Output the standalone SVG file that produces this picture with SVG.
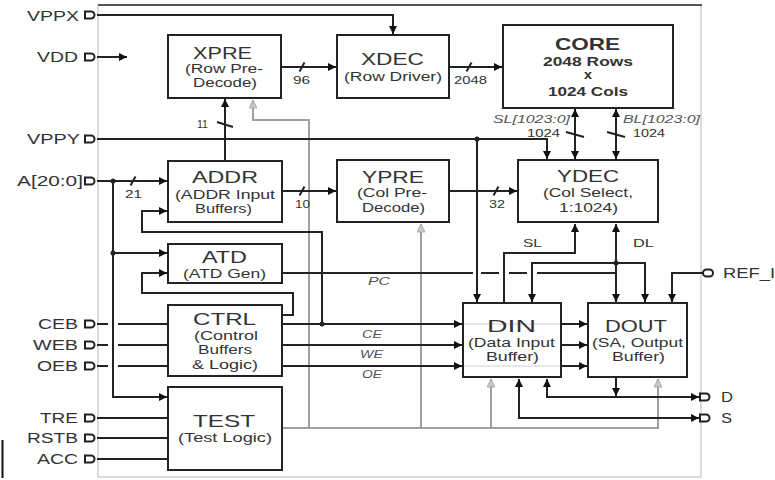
<svg xmlns="http://www.w3.org/2000/svg" width="775" height="480" viewBox="0 0 775 480">
<defs>
<style>
.box{fill:#fff;stroke:#222;stroke-width:2}
.w{fill:none;stroke:#222;stroke-width:2}
.g{fill:none;stroke:#a0a0a0;stroke-width:2}
.port{fill:#fff;stroke:#222;stroke-width:2}
.dot{fill:#222}
text{font-family:"Liberation Sans",Arial,sans-serif;fill:#333}
.ti{font-size:16.5px}
.tb{font-size:17px;font-weight:bold}
.sb{font-size:12.5px;font-weight:bold}
.st{font-size:12px}
.pin{font-size:14px}
.bw{font-size:10.5px}
.it{font-size:11px;font-style:italic;fill:#555}
</style>
<marker id="a" viewBox="0 0 10 10" refX="10" refY="5" markerWidth="9" markerHeight="8" markerUnits="userSpaceOnUse" orient="auto-start-reverse"><path d="M0,0 L10,5 L0,10 z" fill="#111"/></marker>
<marker id="ga" viewBox="0 0 10 10" refX="10" refY="5" markerWidth="9" markerHeight="8" markerUnits="userSpaceOnUse" orient="auto"><path d="M0,0 L10,5 L0,10 z" fill="#c8c8c8" stroke="#a0a0a0" stroke-width="1"/></marker>
</defs>
<rect x="0" y="0" width="775" height="480" fill="#fff"/>
<rect x="98" y="5" width="603" height="472" fill="none" stroke="#cfcfcf" stroke-width="1.5"/>
<path d="M98,5 H702" stroke="#555" stroke-width="2"/>
<path d="M2.5,440 V478" stroke="#111" stroke-width="2"/>

<g id="connectors">
<!-- gray test bus -->
<path class="g" d="M282,428 H658 V379" marker-end="url(#ga)"/>
<path class="g" d="M309,428 V120 H253 V100" marker-end="url(#ga)"/>
<path class="g" d="M421,428 V224" marker-end="url(#ga)"/>
<path class="g" d="M491,428 V379" marker-end="url(#ga)"/>
<!-- power -->
<path class="w" d="M97,15 H393 V34" marker-end="url(#a)"/>
<path class="w" d="M97,57 H127" marker-end="url(#a)"/>
<path class="w" d="M97,139 H547 V159" marker-end="url(#a)"/>
<circle class="dot" cx="477" cy="139" r="2.5"/>
<path class="w" d="M477,139 V302" marker-end="url(#a)"/>
<!-- X path -->
<path class="w" d="M225,161 V99" marker-end="url(#a)"/>
<path class="w" d="M217,122 L233,127"/>
<path class="w" d="M281,67 H336" marker-end="url(#a)"/>
<path class="w" d="M299.5,71.5 L304.5,62.5"/>
<path class="w" d="M449,67 H502" marker-end="url(#a)"/>
<path class="w" d="M466.5,71.5 L471.5,62.5"/>
<!-- core <-> ydec -->
<path class="w" d="M575,109 V159" marker-start="url(#a)" marker-end="url(#a)"/>
<path class="w" d="M616,109 V159" marker-start="url(#a)" marker-end="url(#a)"/>
<path class="w" d="M566,132 L584,137"/>
<path class="w" d="M607,132 L625,137"/>
<!-- address -->
<path class="w" d="M97,181 H167" marker-end="url(#a)"/>
<path class="w" d="M130.5,185.5 L135.5,176.5"/>
<circle class="dot" cx="113" cy="181" r="2.5"/>
<path class="w" d="M113,181 V397 H167" marker-end="url(#a)"/>
<circle class="dot" cx="113" cy="253" r="2.5"/>
<path class="w" d="M113,253 H167" marker-end="url(#a)"/>
<path class="w" d="M322,324 V232 H142 V211 H167" marker-end="url(#a)"/>
<circle class="dot" cx="322" cy="324" r="2.5"/>
<path class="w" d="M282,315 H293 V293 H142 V273 H167" marker-end="url(#a)"/>
<path class="w" d="M282,191 H336" marker-end="url(#a)"/>
<path class="w" d="M299.5,195.5 L304.5,186.5"/>
<path class="w" d="M449,191 H517" marker-end="url(#a)"/>
<path class="w" d="M493.5,195.5 L498.5,186.5"/>
<!-- PC -->
<path class="w" d="M282,273 H473 M481,273 H499 M509,273 H527 M537,273 H616"/>
<!-- SL / DL -->
<path class="w" d="M504,303 V253 H575 V224" marker-end="url(#a)"/>
<path class="w" d="M616,302 V224" marker-start="url(#a)" marker-end="url(#a)"/>
<circle class="dot" cx="616" cy="263" r="2.5"/>
<path class="w" d="M532,302 V263 H645 V302" marker-start="url(#a)" marker-end="url(#a)"/>
<path class="w" d="M703,273 H672 V302" marker-end="url(#a)"/>
<!-- control -->
<path class="w" d="M97,324 H108 M118,324 H168"/>
<path class="w" d="M97,345 H108 M118,345 H168"/>
<path class="w" d="M97,366 H108 M118,366 H168"/>
<path class="w" d="M282,324 H462" marker-end="url(#a)"/>
<path class="w" d="M282,345 H462" marker-end="url(#a)"/>
<path class="w" d="M282,366 H462" marker-end="url(#a)"/>
<path class="w" d="M561,324 H587" marker-end="url(#a)"/>
<path class="w" d="M561,345 H587" marker-end="url(#a)"/>
<path class="w" d="M561,366 H587" marker-end="url(#a)"/>
<!-- test inputs -->
<path class="w" d="M97,418 H168"/>
<path class="w" d="M97,438 H168"/>
<path class="w" d="M97,459 H168"/>
<!-- data out -->
<path class="w" d="M616,377 V396" marker-end="url(#a)"/>
<path class="w" d="M699,397 H547 V379" marker-start="url(#a)" marker-end="url(#a)"/>
<path class="w" d="M699,418 H519 V379" marker-start="url(#a)" marker-end="url(#a)"/>
</g>

<g id="pins">
<g id="pin-vppx"><path class="port" d="M85,11.5 h6 a3.5,3.5 0 0 1 0,7 h-6 z"/><text class="pin" x="27" y="21" textLength="52" lengthAdjust="spacingAndGlyphs">VPPX</text></g>
<g id="pin-vdd"><path class="port" d="M85,53.5 h6 a3.5,3.5 0 0 1 0,7 h-6 z"/><text class="pin" x="37" y="62" textLength="41" lengthAdjust="spacingAndGlyphs">VDD</text></g>
<g id="pin-vppy"><path class="port" d="M85,135.5 h6 a3.5,3.5 0 0 1 0,7 h-6 z"/><text class="pin" x="27" y="144" textLength="53" lengthAdjust="spacingAndGlyphs">VPPY</text></g>
<g id="pin-a"><path class="port" d="M85,177.5 h6 a3.5,3.5 0 0 1 0,7 h-6 z"/><text class="pin" x="17" y="186" textLength="66" lengthAdjust="spacingAndGlyphs">A[20:0]</text></g>
<g id="pin-ceb"><path class="port" d="M85,320.5 h6 a3.5,3.5 0 0 1 0,7 h-6 z"/><text class="pin" x="38" y="329" textLength="40" lengthAdjust="spacingAndGlyphs">CEB</text></g>
<g id="pin-web"><path class="port" d="M85,341.5 h6 a3.5,3.5 0 0 1 0,7 h-6 z"/><text class="pin" x="33" y="350" textLength="45" lengthAdjust="spacingAndGlyphs">WEB</text></g>
<g id="pin-oeb"><path class="port" d="M85,362.5 h6 a3.5,3.5 0 0 1 0,7 h-6 z"/><text class="pin" x="37" y="371" textLength="41" lengthAdjust="spacingAndGlyphs">OEB</text></g>
<g id="pin-tre"><path class="port" d="M85,414.5 h6 a3.5,3.5 0 0 1 0,7 h-6 z"/><text class="pin" x="40" y="423" textLength="38" lengthAdjust="spacingAndGlyphs">TRE</text></g>
<g id="pin-rstb"><path class="port" d="M85,434.5 h6 a3.5,3.5 0 0 1 0,7 h-6 z"/><text class="pin" x="27" y="443" textLength="51" lengthAdjust="spacingAndGlyphs">RSTB</text></g>
<g id="pin-acc"><path class="port" d="M85,455.5 h6 a3.5,3.5 0 0 1 0,7 h-6 z"/><text class="pin" x="37" y="464" textLength="41" lengthAdjust="spacingAndGlyphs">ACC</text></g>
<g id="pin-refi"><rect class="port" x="703" y="269.5" width="10" height="7" rx="3.5"/><text class="pin" x="723" y="278" textLength="52" lengthAdjust="spacingAndGlyphs">REF_I</text></g>
<g id="pin-d"><path class="port" d="M700,393.5 h6 a3.5,3.5 0 0 1 0,7 h-6 z"/><text class="pin" x="721" y="402" textLength="12" lengthAdjust="spacingAndGlyphs">D</text></g>
<g id="pin-s"><path class="port" d="M700,414.5 h6 a3.5,3.5 0 0 1 0,7 h-6 z"/><text class="pin" x="721" y="423" textLength="11" lengthAdjust="spacingAndGlyphs">S</text></g>
</g>

<g id="xpre"><rect class="box" x="168" y="35" width="113" height="63"/>
<text class="ti" x="193" y="59" textLength="59" lengthAdjust="spacingAndGlyphs">XPRE</text>
<text class="st" x="185" y="73" textLength="78" lengthAdjust="spacingAndGlyphs">(Row Pre-</text>
<text class="st" x="193" y="87" textLength="64" lengthAdjust="spacingAndGlyphs">Decode)</text></g>
<g id="xdec"><rect class="box" x="337" y="35" width="112" height="63"/>
<text class="ti" x="361" y="65" textLength="63" lengthAdjust="spacingAndGlyphs">XDEC</text>
<text class="st" x="344" y="81" textLength="98" lengthAdjust="spacingAndGlyphs">(Row Driver)</text></g>
<g id="core"><rect class="box" x="503" y="25" width="170" height="83"/>
<text class="tb" x="555" y="50" textLength="65" lengthAdjust="spacingAndGlyphs">CORE</text>
<text class="sb" x="543" y="66" textLength="90" lengthAdjust="spacingAndGlyphs">2048 Rows</text>
<text class="sb" x="584" y="79" textLength="8" lengthAdjust="spacingAndGlyphs">x</text>
<text class="sb" x="548" y="96" textLength="80" lengthAdjust="spacingAndGlyphs">1024 Cols</text></g>
<g id="addr"><rect class="box" x="168" y="161" width="114" height="61"/>
<text class="ti" x="192" y="183" textLength="66" lengthAdjust="spacingAndGlyphs">ADDR</text>
<text class="st" x="175" y="199" textLength="100" lengthAdjust="spacingAndGlyphs">(ADDR Input</text>
<text class="st" x="195" y="213" textLength="57" lengthAdjust="spacingAndGlyphs">Buffers)</text></g>
<g id="ypre"><rect class="box" x="337" y="160" width="112" height="62"/>
<text class="ti" x="362" y="183" textLength="62" lengthAdjust="spacingAndGlyphs">YPRE</text>
<text class="st" x="357" y="197" textLength="70" lengthAdjust="spacingAndGlyphs">(Col Pre-</text>
<text class="st" x="362" y="212" textLength="63" lengthAdjust="spacingAndGlyphs">Decode)</text></g>
<g id="ydec"><rect class="box" x="518" y="160" width="140" height="62"/>
<text class="ti" x="557" y="182" textLength="62" lengthAdjust="spacingAndGlyphs">YDEC</text>
<text class="st" x="543" y="197" textLength="90" lengthAdjust="spacingAndGlyphs">(Col Select,</text>
<text class="st" x="559" y="212" textLength="59" lengthAdjust="spacingAndGlyphs">1:1024)</text></g>
<g id="atd"><rect class="box" x="168" y="244" width="114" height="39"/>
<text class="ti" x="202" y="263" textLength="45" lengthAdjust="spacingAndGlyphs">ATD</text>
<text class="st" x="183" y="278" textLength="83" lengthAdjust="spacingAndGlyphs">(ATD Gen)</text></g>
<g id="ctrl"><rect class="box" x="168" y="305" width="114" height="71"/>
<text class="ti" x="193" y="325" textLength="63" lengthAdjust="spacingAndGlyphs">CTRL</text>
<text class="st" x="194" y="340" textLength="64" lengthAdjust="spacingAndGlyphs">(Control</text>
<text class="st" x="198" y="354" textLength="54" lengthAdjust="spacingAndGlyphs">Buffers</text>
<text class="st" x="192" y="369" textLength="66" lengthAdjust="spacingAndGlyphs">&amp; Logic)</text></g>
<g id="din"><rect class="box" x="463" y="303" width="98" height="74"/>
<path d="M464,324 H560 M464,366 H560" stroke="#d0d0d0" stroke-width="1"/>
<text class="tb" style="font-weight:normal" x="487" y="332" textLength="49" lengthAdjust="spacingAndGlyphs">DIN</text>
<text class="st" x="468" y="347" textLength="87" lengthAdjust="spacingAndGlyphs">(Data Input</text>
<text class="st" x="486" y="361" textLength="53" lengthAdjust="spacingAndGlyphs">Buffer)</text></g>
<g id="dout"><rect class="box" x="588" y="303" width="99" height="74"/>
<text class="tb" style="font-weight:normal" x="605" y="332" textLength="62" lengthAdjust="spacingAndGlyphs">DOUT</text>
<text class="st" x="592" y="347" textLength="91" lengthAdjust="spacingAndGlyphs">(SA, Output</text>
<text class="st" x="612" y="361" textLength="53" lengthAdjust="spacingAndGlyphs">Buffer)</text></g>
<g id="test"><rect class="box" x="168" y="387" width="114" height="83"/>
<text class="tb" style="font-weight:normal" x="193" y="427" textLength="62" lengthAdjust="spacingAndGlyphs">TEST</text>
<text class="st" x="178" y="442" textLength="94" lengthAdjust="spacingAndGlyphs">(Test Logic)</text></g>

<g id="labels">
<text class="bw" x="197" y="128" textLength="11" lengthAdjust="spacingAndGlyphs">11</text>
<text class="bw" x="293" y="84" textLength="17" lengthAdjust="spacingAndGlyphs">96</text>
<text class="bw" x="454" y="84" textLength="33" lengthAdjust="spacingAndGlyphs">2048</text>
<text class="bw" x="125" y="198" textLength="17" lengthAdjust="spacingAndGlyphs">21</text>
<text class="bw" x="295" y="208" textLength="15" lengthAdjust="spacingAndGlyphs">10</text>
<text class="bw" x="489" y="208" textLength="16" lengthAdjust="spacingAndGlyphs">32</text>
<text class="it" x="493" y="123" textLength="77" lengthAdjust="spacingAndGlyphs">SL[1023:0]</text>
<text class="bw" x="527" y="137" textLength="33" lengthAdjust="spacingAndGlyphs">1024</text>
<text class="it" x="623" y="123" textLength="77" lengthAdjust="spacingAndGlyphs">BL[1023:0]</text>
<text class="bw" x="633" y="137" textLength="32" lengthAdjust="spacingAndGlyphs">1024</text>
<text class="bw" x="523" y="247" textLength="19" lengthAdjust="spacingAndGlyphs">SL</text>
<text class="bw" x="633" y="247" textLength="21" lengthAdjust="spacingAndGlyphs">DL</text>
<text class="it" x="368" y="285" textLength="22" lengthAdjust="spacingAndGlyphs">PC</text>
<text class="it" x="362" y="338" textLength="20" lengthAdjust="spacingAndGlyphs">CE</text>
<text class="it" x="360" y="358" textLength="23" lengthAdjust="spacingAndGlyphs">WE</text>
<text class="it" x="362" y="378" textLength="20" lengthAdjust="spacingAndGlyphs">OE</text>
</g>
</svg>
